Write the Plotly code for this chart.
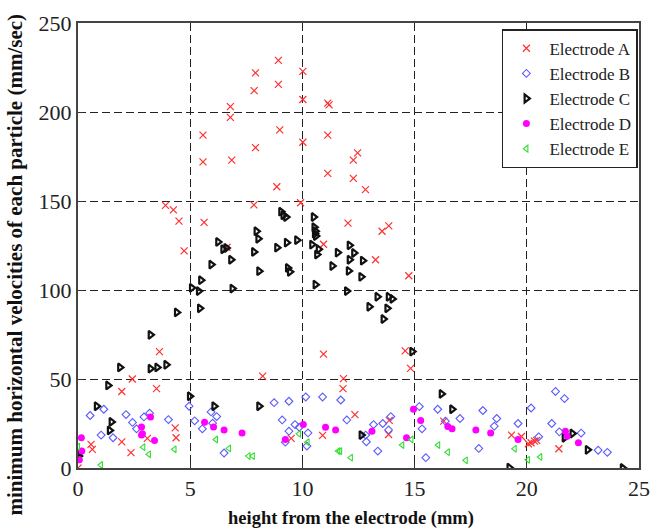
import plotly.graph_objects as go

# Electrode A (red x)
a_x = [7.91, 7.85, 6.79, 6.79, 5.57, 5.57, 6.85, 7.91, 3.90, 4.25, 4.50, 5.62, 7.84, 4.73, 6.64,
       8.93, 10.02, 8.93, 10.02, 11.13, 11.19, 8.99, 11.13, 10.02, 12.46, 12.27, 11.13, 12.27, 12.81,
       8.86, 9.92, 12.03, 13.55, 13.85, 10.94, 13.26,
       14.74, 10.94, 14.58, 14.82, 8.23, 11.83, 11.81, 12.34, 13.87, 13.84, 10.9, 9.5, 16.3,
       3.63, 2.42, 1.95, 3.5, 4.33, 4.37, 1.95, 3.09, 2.36, 0.58, 0.64, 0.0,
       19.32, 19.76, 20.19, 20.34, 20.44, 20.07, 21.43]
a_y = [222, 212, 203, 197, 187, 172, 173, 180, 147.5, 145, 138.7, 138, 147.8, 122, 124,
       229, 222.8, 215.5, 207, 205, 204, 190, 187, 183, 177, 173, 165.5, 162.7, 156.4,
       158, 149, 137.6, 133, 136, 125.7, 117,
       108, 64, 65.8, 56, 51.6, 50.2, 44.6, 30, 26.8, 18.8, 18.3, 16.6, 26.3,
       65.4, 50, 43, 44.6, 22.5, 17, 14.7, 16.6, 8.6, 13.3, 10.5, 0,
       18.5, 17.7, 14.2, 15.1, 15.5, 13.6, 10.8]

# Electrode B (blue diamonds)
b_x = [0.54, 1.15, 2.14, 2.43, 2.61, 2.94, 3.19, 4.03, 1.03, 1.56, 4.95, 5.2, 5.54, 5.93, 6.18, 6.0, 6.51,
       8.74, 9.4, 10.15, 10.9, 11.71, 9.1, 9.67, 9.86, 9.4, 10.25, 10.2, 9.24, 11.98, 13.17, 13.58, 13.94,
       13.84, 12.82, 12.85, 13.36, 15.21, 15.33, 15.5, 16.03,
       21.28, 21.68, 20.19, 18.04, 17.02, 18.66, 18.55, 19.61, 21.11, 21.45, 22.42, 20.53, 17.86, 23.18,
       23.59, 16.37]
b_y = [29.5, 33, 30, 25.6, 22, 28.7, 30.8, 27.2, 18.5, 17, 34.7, 26.5, 22, 31.5, 28.9, 25.2, 8.4,
       36.7, 37.5, 39.9, 39.9, 38.2, 27, 24.4, 22.9, 20.7, 19.7, 12.3, 14.5, 27, 24.4, 25, 28.9,
       21.4, 18.5, 14.7, 9.5, 34.5, 22, 5.8, 33,
       43, 39, 33.7, 32.3, 27.8, 27.8, 23.5, 25, 25, 20.3, 19.6, 17.5, 11, 10,
       8.8, 26.3]

# Electrode C (black right triangles)
c_x = [9.05, 9.15, 9.27, 10.5, 10.53, 10.58, 10.55, 10.6, 7.95, 8.03, 6.24, 6.47, 6.61, 5.94, 6.82,
       7.84, 8.07, 8.87, 9.3, 9.76, 9.35, 9.44, 10.43, 10.72, 10.65, 11.57, 12.1, 12.3, 12.1, 12.69,
       11.33, 12.06, 12.62, 5.48, 5.38, 6.88, 11.98, 10.58, 13.34, 13.84, 14.01, 12.98, 13.78, 13.61,
       14.89, 5.07, 4.40, 5.43, 3.23, 1.87, 3.23, 3.53, 3.93, 1.34, 4.98, 0.83, 6.07, 8.07, 1.49, 1.41,
       0.03, 0.0, 12.63, 16.2, 16.67, 21.68, 22.03, 22.71, 19.22, 24.27]
c_y = [144, 142, 141, 141, 135.3, 133, 131.6, 130.3, 133, 128.8, 127, 122.9, 123.6, 114.3, 117,
       121.4, 110.6, 123.8, 126.6, 128, 112.4, 110.2, 125.5, 122.9, 119.9, 121, 125.1, 120.8, 117, 116.5,
       113.5, 110.7, 107.4, 105.5, 99.4, 100.8, 99.4, 103, 96.2, 96.2, 95, 90.6, 89.7, 83.7,
       65.4, 101.2, 87.4, 89.7, 74.8, 56.5, 55.8, 56.5, 58, 46.4, 40.3, 34.7, 34.7, 34.7, 25.9, 21.1,
       6.7, 8, 18.5, 41.6, 33, 17, 19.4, 10.2, 0.2, 0]

# Electrode D (magenta dots)
d_x = [0.15, 0.17, 0.06, 2.83, 2.87, 2.83, 3.23, 3.41, 5.64, 6.04, 6.51, 7.31,
       10.04, 11.03, 11.48, 9.24, 13.1, 14.95, 15.27, 14.64,
       16.48, 16.67, 17.73, 18.39, 19.61, 21.72, 21.8, 22.3]
d_y = [17, 9.5, 4.6, 23, 19.2, 18.5, 28.7, 15.5, 25.7, 23, 21.4, 19.7,
       24.4, 22.9, 21.3, 16, 20.7, 33, 26.7, 17,
       23.3, 22, 21.3, 19.7, 16, 20.7, 17.9, 14.2]

# Electrode E (green left triangles)
e_x = [0.0, 1.02, 2.91, 3.16, 4.3, 6.15, 6.73, 7.6, 7.79,
       9.85, 10.23, 11.6, 11.68, 12.16, 14.45, 14.86, 16.05,
       16.48, 17.28, 19.46, 20.05, 20.6]
e_y = [12, 1.7, 11.7, 7.7, 10.5, 16, 11, 6.7, 6.7,
       19.2, 14.5, 9.5, 9.5, 5.8, 12.9, 16, 12.9,
       8.9, 4.3, 10.8, 4.6, 6.2]

names = ["Electrode A", "Electrode B", "Electrode C", "Electrode D", "Electrode E"]
x_ticks = [0, 5, 10, 15, 20, 25]
y_ticks = [0, 50, 100, 150, 200, 250]
x_title = "height from the electrode (mm)"
y_title = "minimum horizontal velocities of each particle (mm/sec)"

xs = [a_x, b_x, c_x, d_x, e_x]
ys = [a_y, b_y, c_y, d_y, e_y]
markers = [
    dict(symbol="x-thin-open", size=7, color="#ff3030", line=dict(color="#ff3030", width=1.2)),
    dict(symbol="diamond-open", size=6, color="#5a5aff", line=dict(color="#5a5aff", width=1.1)),
    dict(symbol="triangle-right-open", size=7, color="#111111", line=dict(color="#111111", width=2.2)),
    dict(symbol="circle", size=7, color="#ff00ff", line=dict(width=0)),
    dict(symbol="triangle-left-open", size=6, color="#33dd33", line=dict(color="#33dd33", width=1.1)),
]

fig = go.Figure()
for n, x, y, m in zip(names, xs, ys, markers):
    fig.add_trace(go.Scatter(x=x, y=y, mode="markers", name=n, marker=m))

serif = "Liberation Serif"
axis_common = dict(
    showline=True, linecolor="#444444", linewidth=2, mirror=True,
    ticks="inside", ticklen=5, tickcolor="#333333", tickwidth=1,
    showgrid=True, gridcolor="#222222", gridwidth=1.4, griddash="8px,4px",
    zeroline=False, tickfont=dict(family=serif, size=22, color="#222222"),
)

fig.update_layout(
    width=661, height=531,
    margin=dict(l=78, r=11, t=20, b=63),
    paper_bgcolor="white", plot_bgcolor="white",
    font=dict(family=serif, color="#111111"),
    showlegend=True,
    legend=dict(
        x=0.998, y=0.986, xanchor="right", yanchor="top",
        bgcolor="white", bordercolor="#222222", borderwidth=1.5,
        font=dict(family=serif, size=17, color="#222222"),
        itemwidth=36, tracegroupgap=0,
    ),
    annotations=[
        dict(text="<b>" + x_title + "</b>", xref="paper", yref="paper", x=0.5, y=0,
             xanchor="center", yanchor="middle", xshift=-8, yshift=-50, showarrow=False,
             font=dict(family=serif, size=18.5, color="#111111")),
        dict(text="<b>" + y_title + "</b>", xref="paper", yref="paper", x=0, y=0.5,
             xanchor="center", yanchor="middle", xshift=-64, yshift=-19, textangle=-90,
             showarrow=False, font=dict(family=serif, size=21, color="#111111")),
    ],
)
fig.update_xaxes(range=[0, 25], tickvals=x_ticks, **axis_common)
fig.update_yaxes(range=[0, 250], tickvals=y_ticks, **axis_common)

fig.write_html("out.html")
